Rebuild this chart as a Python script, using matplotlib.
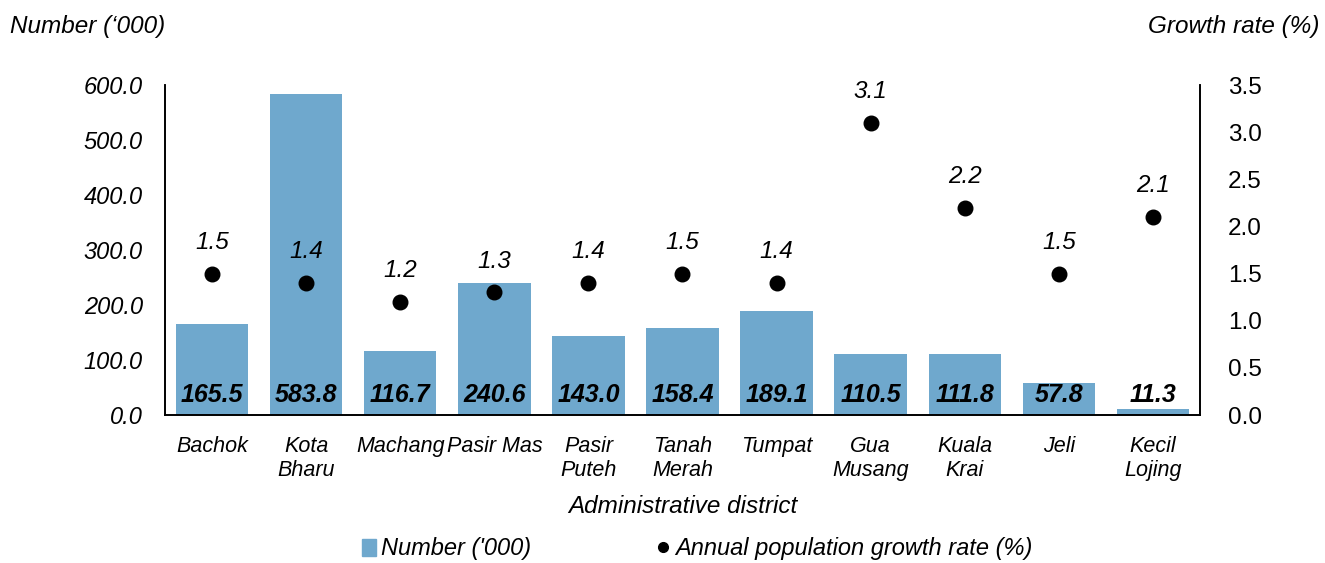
import numpy as np
import matplotlib.pyplot as plt
from matplotlib.lines import Line2D
from matplotlib.patches import Patch

plt.rcParams['font.family'] = ['Liberation Sans', 'DejaVu Sans']

# data
districts = ['Bachok', 'Kota\nBharu', 'Machang', 'Pasir Mas', 'Pasir\nPuteh', 'Tanah\nMerah',
             'Tumpat', 'Gua\nMusang', 'Kuala\nKrai', 'Jeli', 'Kecil\nLojing']
population = [165.5, 583.8, 116.7, 240.6, 143.0, 158.4, 189.1, 110.5, 111.8, 57.8, 11.3]
growth = [1.5, 1.4, 1.2, 1.3, 1.4, 1.5, 1.4, 3.1, 2.2, 1.5, 2.1]

bar_color = '#6FA8CD'
x = np.arange(len(districts))

fig = plt.figure(figsize=(13.25, 5.63), dpi=100)
ax = fig.add_axes([165 / 1325, 1 - 415 / 563, 1035 / 1325, 330 / 563])
ax2 = ax.twinx()

ax.bar(x, population, width=0.77, color=bar_color, zorder=2)
for xi, v in zip(x, population):
    ax.text(xi, 37, f'{v:.1f}', ha='center', va='center', fontsize=18,
            fontweight='bold', fontstyle='italic')

ax2.scatter(x, growth, s=110, color='black', zorder=3)
for xi, g in zip(x, growth):
    ax2.annotate(f'{g:.1f}', (xi, g), xytext=(0, 22.5), textcoords='offset points',
                 ha='center', va='center', fontsize=17.5, fontstyle='italic')

# left axis
ax.set_xlim(-0.5, len(districts) - 0.5)
ax.set_ylim(0, 600)
ax.set_yticks(np.arange(0, 601, 100))
ax.set_yticklabels([f'{v:.1f}' for v in np.arange(0, 601, 100)], fontsize=17, fontstyle='italic')
ax.set_xticks(x)
ax.set_xticklabels(districts, fontsize=15.5, fontstyle='italic', linespacing=1.2)
ax.tick_params(axis='both', length=0)
ax.tick_params(axis='x', pad=15)
ax.tick_params(axis='y', pad=16)
ax.spines['top'].set_visible(False)

# right axis
ax2.set_ylim(0, 3.5)
ax2.set_yticks(np.arange(0, 3.51, 0.5))
ax2.set_yticklabels([f'{v:.1f}' for v in np.arange(0, 3.51, 0.5)], fontsize=17.5)
ax2.tick_params(axis='y', length=0, pad=20)
ax2.spines['top'].set_visible(False)
for a in (ax, ax2):
    for s in ['left', 'right', 'bottom']:
        a.spines[s].set_linewidth(1.2)

ax.set_xlabel('Administrative district', fontsize=17.5, fontstyle='italic', labelpad=10)

fig.text(10 / 1325, 1 - 27 / 563, "Number (\u2018000)", fontsize=17.5, fontstyle='italic',
         ha='left', va='center')
fig.text(1320 / 1325, 1 - 27 / 563, 'Growth rate (%)', fontsize=17.5, fontstyle='italic',
         ha='right', va='center')

handles = [Patch(color=bar_color, label="Number ('000)"),
           Line2D([], [], marker='o', color='black', linestyle='none', markersize=7,
                  label='Annual population growth rate (%)')]
fig.legend(handles=handles, loc='center', bbox_to_anchor=(697 / 1325, 1 - 549 / 563), ncol=2,
           frameon=False, prop={'size': 17, 'style': 'italic'}, handlelength=0.6,
           handletextpad=0.2, columnspacing=5.3)

fig.savefig('out.png', dpi=100)
